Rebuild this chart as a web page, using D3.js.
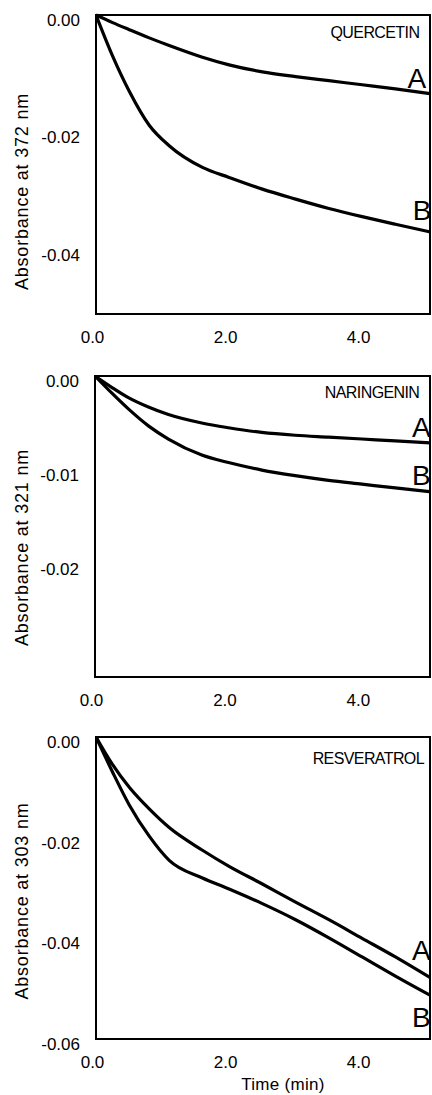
<!DOCTYPE html>
<html>
<head>
<meta charset="utf-8">
<script src="https://cdn.jsdelivr.net/npm/d3@7"></script>
<style>
  html, body { margin: 0; padding: 0; background: #fff; }
  svg { display: block; }
  text { font-family: "Liberation Sans", Arial, sans-serif; fill: #000; }
</style>
</head>
<body>
<svg id="chart" width="432" height="1095"></svg>
<script>
// Sampling times (min), shared by every trace
const timeMin = [0, 0.25, 0.5, 0.8, 1.1, 1.6, 2.0, 2.5, 3.0, 3.5, 4.0, 4.5, 5.02];

// Quercetin, absorbance change at 372 nm
const quercetinA = [0, -0.0013, -0.0025, -0.0039, -0.0052, -0.0072, -0.0085, -0.0097, -0.0105, -0.0112, -0.0119, -0.0126, -0.0134];
const quercetinB = [0, -0.0070, -0.0130, -0.0188, -0.0223, -0.0260, -0.0277, -0.0297, -0.0314, -0.0330, -0.0344, -0.0357, -0.0370];

// Naringenin, absorbance change at 321 nm
const naringeninA = [0, -0.0012, -0.0023, -0.0033, -0.0041, -0.0050, -0.0055, -0.0060, -0.0063, -0.0065, -0.0067, -0.0069, -0.0071];
const naringeninB = [0, -0.0018, -0.0035, -0.0053, -0.0067, -0.0084, -0.0092, -0.0100, -0.0106, -0.0111, -0.0115, -0.0119, -0.0123];

// Resveratrol, absorbance change at 303 nm
const resveratrolA = [0, -0.0055, -0.0100, -0.0143, -0.0180, -0.0225, -0.0257, -0.0292, -0.0328, -0.0363, -0.0400, -0.0437, -0.0478];
const resveratrolB = [0, -0.0070, -0.0135, -0.0197, -0.0245, -0.0280, -0.0302, -0.0331, -0.0363, -0.0399, -0.0437, -0.0475, -0.0513];

// Axis ticks
const xTicks = [0, 2, 4];
const quercetinYTicks = [0, -0.02, -0.04];
const naringeninYTicks = [0, -0.01, -0.02];
const resveratrolYTicks = [0, -0.02, -0.04, -0.06];

const panels = [
  { name: "QUERCETIN", yLabel: "Absorbance at 372 nm", a: quercetinA, b: quercetinB,
    yDomain: [-0.051, 0], yTicks: quercetinYTicks,
    box: { left: 96, right: 430, top: 15, bottom: 314 },
    nameAt: [4.86, -0.0039], aAt: [4.68, -0.0125], bAt: [4.76, -0.0350], titleShift: 27 },
  { name: "NARINGENIN", yLabel: "Absorbance at 321 nm", a: naringeninA, b: naringeninB,
    yDomain: [-0.032, 0], yTicks: naringeninYTicks,
    box: { left: 95, right: 430, top: 376, bottom: 677 },
    nameAt: [4.86, -0.0023], aAt: [4.75, -0.0065], bAt: [4.75, -0.0116], titleShift: 21 },
  { name: "RESVERATROL", yLabel: "Absorbance at 303 nm", a: resveratrolA, b: resveratrolB,
    yDomain: [-0.06, 0], yTicks: resveratrolYTicks,
    box: { left: 96, right: 430, top: 737, bottom: 1039 },
    nameAt: [4.93, -0.0054], aAt: [4.75, -0.0443], bAt: [4.75, -0.0576], titleShift: 13 }
];

const svg = d3.select("#chart");
const xMax = 5.02;

panels.forEach((p, i) => {
  const bx = p.box;
  const x = d3.scaleLinear().domain([0, xMax]).range([bx.left, bx.right]);
  const y = d3.scaleLinear().domain(p.yDomain).range([bx.bottom, bx.top]);
  const g = svg.append("g");

  const clipId = "clip" + i;
  g.append("clipPath").attr("id", clipId)
    .append("rect").attr("x", bx.left).attr("y", bx.top - 3)
    .attr("width", bx.right - bx.left + 3).attr("height", bx.bottom - bx.top + 3);

  // frame
  g.append("rect")
    .attr("x", bx.left).attr("y", bx.top)
    .attr("width", bx.right - bx.left).attr("height", bx.bottom - bx.top)
    .attr("fill", "none").attr("stroke", "#000").attr("stroke-width", 2);

  // x axis tick labels
  const xAxis = d3.axisBottom(x).tickValues(xTicks).tickFormat(d3.format(".1f")).tickSize(0).tickPadding(0);
  const xg = g.append("g").attr("transform", `translate(0,${bx.bottom})`).call(xAxis);
  xg.select(".domain").remove();
  xg.selectAll("text").attr("font-size", 17).attr("dy", null).attr("y", 29)
    .attr("dx", -4).attr("font-family", "Liberation Sans, Arial, sans-serif");

  // y axis tick labels
  const yAxis = d3.axisLeft(y).tickValues(p.yTicks).tickSize(0).tickPadding(16)
    .tickFormat(d => d3.format(".2f")(d).replace("\u2212", "-"));
  const yg = g.append("g").attr("transform", `translate(${bx.left},0)`).call(yAxis);
  yg.select(".domain").remove();
  yg.selectAll("text").attr("font-size", 17).attr("dy", "0.62em")
    .attr("font-family", "Liberation Sans, Arial, sans-serif");

  // y axis title
  const cy = (bx.top + bx.bottom) / 2 + p.titleShift;
  g.append("text")
    .attr("transform", `translate(28,${cy}) rotate(-90)`)
    .attr("text-anchor", "middle")
    .attr("font-size", 18)
    .attr("letter-spacing", 0.8)
    .text(p.yLabel);

  // traces
  const line = d3.line()
    .x((d, k) => x(timeMin[k]))
    .y(d => y(d))
    .curve(d3.curveMonotoneX);
  const traces = g.append("g").attr("clip-path", `url(#${clipId})`);
  [p.a, p.b].forEach(series => {
    traces.append("path")
      .datum(series)
      .attr("d", line)
      .attr("fill", "none")
      .attr("stroke", "#000")
      .attr("stroke-width", 3.2)
      .attr("stroke-linejoin", "round");
  });

  // compound name
  g.append("text")
    .attr("x", x(p.nameAt[0])).attr("y", y(p.nameAt[1]))
    .attr("text-anchor", "end")
    .attr("font-size", 16)
    .attr("letter-spacing", -0.6)
    .text(p.name);

  // trace labels
  g.append("text").attr("x", x(p.aAt[0])).attr("y", y(p.aAt[1]))
    .attr("font-size", 28).text("A");
  g.append("text").attr("x", x(p.bAt[0])).attr("y", y(p.bAt[1]))
    .attr("font-size", 28).text("B");
});

// shared x axis title
svg.append("text")
  .attr("x", 283).attr("y", 1090)
  .attr("text-anchor", "middle")
  .attr("font-size", 17)
  .attr("letter-spacing", 0.3)
  .text("Time (min)");
</script>
</body>
</html>
